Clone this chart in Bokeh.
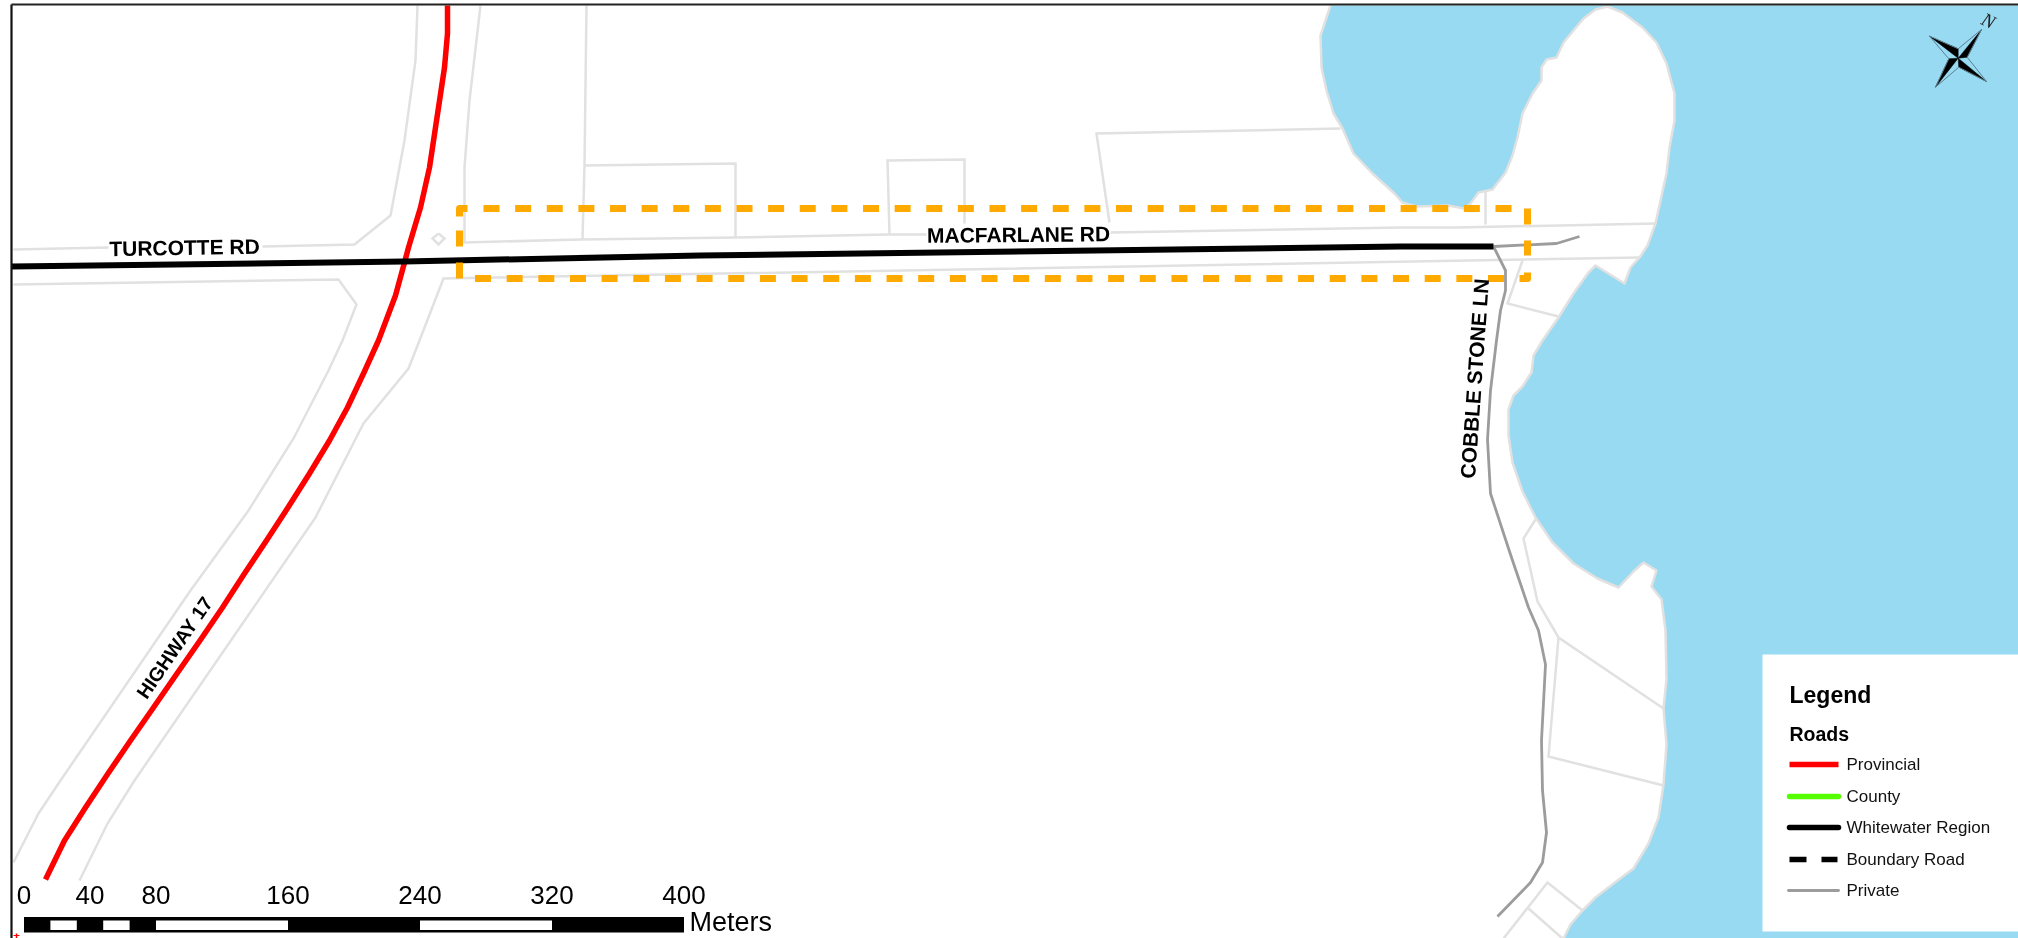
from bokeh.plotting import figure
from bokeh.embed import file_html
from bokeh.resources import INLINE
from bokeh.core.properties import value
import numpy as np

# ---- map geometry (map units = picture pixels) ----
shore_x = [1330,1320,1321,1326,1333,1342,1353,1372,1394,1402,1416,1448,1463,1470,1478,1492,1505,1512,1517,1522,1532,1541,1541,1546,1556,1563,1583,1595,1607,1622,1642,1656,1666,1674,1674,1669,1666,1660,1655,1647,1639,1630,1624,1595,1588,1573,1558,1542,1533,1531,1522,1513,1508,1508,1512,1522,1535,1552,1573,1597,1618,1633,1643,1656,1651,1661,1665,1666,1663,1666,1663,1658,1648,1633,1613,1595,1582,1570,1563]
shore_y = [5,35,67,90,113,128,153,173,193,202,206,205,208,203,192,189,172,155,137,113,93,80,67,59,57,42,18,9,6,12,27,42,63,93,120,147,173,200,223,245,257,267,283,265,272,293,317,340,355,372,386,395,409,435,462,491,517,542,563,578,587,571,562,570,586,599,630,679,708,744,784,817,843,868,883,897,910,924,938]
water_corner_x = [2018,2018]
water_corner_y = [938,5]

parcels = [
    [(417,5),(415,60),(404,140),(390,215),(354,244),(262,246)],
    [(108,247),(13,249)],
    [(480,5),(469,100),(464,167),(464,242),(580,239),(735,237),(888,234),(926,234)],
    [(1110,232),(1400,227),(1456,227),(1655,223)],
    [(586,5),(584,165),(582,239)],
    [(584,165),(735,163),(735,237)],
    [(889,234),(887,160),(964,159),(964,223)],
    [(1109,222),(1096,133),(1340,128)],
    [(13,284),(338,279),(356,304),(342,340),(328,370),(293,438),(248,510),(190,590),(60,780),(38,813),(13,862)],
    [(1639,257),(443,278),(419,340),(408,368),(363,423),(315,517),(134,780),(107,823),(79,880)],
    [(1522,260),(1507,303),(1558,316)],
    [(1485,190),(1485,224)],
    [(1535,519),(1523,538),(1537,601),(1558,637),(1663,708)],
    [(1558,637),(1548,756),(1663,785)],
    [(1582,910),(1547,882),(1503,938)],
    [(1528,908),(1562,938)],
    [(438,233),(444,238),(438,244),(432,238),(438,233)],
]

highway_x = [447,447,444,435,429,420,408,404,395,378,363,347,329,309,287.5,266,244,222,199.5,176.5,153,130,107.5,85,64,45]
highway_y = [5,33,67,127,167,207,247,262,295,340,373,407,440,473,507,540,573,607,640,673,707,740,773,807,840,879]
region_x = [11,404,700,1400,1493]
region_y = [266,261,255,246,246]
private_east_x = [1493,1556,1579]
private_east_y = [246,243,236]
private_x = [1493,1505,1505,1500,1496,1490,1487,1490,1510,1528,1538,1545,1541,1542,1546,1542,1530,1497]
private_y = [246,270,290,310,340,390,439,493,554,607,630,664,740,790,832,862,882,916]

study_left, study_right, study_top, study_bottom = 459, 1527, 208, 278

scale_ticks = [0,40,80,160,240,320,400]
scale_white = [(16,32),(48,64),(80,160),(240,320)]
scale_origin, scale_px_per_m = 23.5, 1.65

road_labels = ["TURCOTTE RD","MACFARLANE RD","COBBLE STONE LN","HIGHWAY 17"]
label_x = [184,1018,1474,174]
label_y = [247,234,378,647]
label_deg = [1,0.5,86,55.5]
label_px = ["21px","21px","21px","19.5px"]

legend_names = ["Provincial","County","Whitewater Region","Boundary Road","Private"]
legend_colors = ["#FF0000","#55FF00","#000000","#000000","#9C9C9C"]

star_center = (1957.7,57.7)
star_tips = [(1981,29),(1986,81),(1935,86.7),(1929,35.7)]
star_waist = [(1966.7,56.7),(1958.3,66.7),(1948.3,58.3),(1957.7,48.3)]

WATER = "#97DAF2"; GREY = "#E1E1E1"; ORANGE = "#FFAA00"
SANS = value("Liberation Sans")

p = figure(width=2018, height=938, x_range=(0,2018), y_range=(938,0),
           output_backend="svg", toolbar_location=None,
           x_axis_location=None, y_axis_location=None,
           min_border=0, outline_line_color=None, background_fill_color="white",
           border_fill_color="white")
p.grid.visible = False
p.styles = {"position":"fixed","left":"0px","top":"0px"}

# water and shore
p.patch(shore_x+water_corner_x, shore_y+water_corner_y, fill_color=WATER, line_color=None)
p.line(shore_x, shore_y, line_color=GREY, line_width=2.5, line_join="round")

# parcel fabric
p.multi_line([[a for a,_ in s] for s in parcels], [[b for _,b in s] for s in parcels],
             line_color=GREY, line_width=2.5, line_join="miter")

# roads
p.line(highway_x, highway_y, line_color="#FF0000", line_width=5.5, line_join="round")
p.line(private_east_x, private_east_y, line_color="#9C9C9C", line_width=2.8, line_join="round")
p.line(private_x, private_y, line_color="#9C9C9C", line_width=2.8, line_join="round")
p.line(region_x, region_y, line_color="#000000", line_width=6, line_join="round")

# study area, dashed
def hdashes(first, last, n, y):
    starts = np.linspace(first, last, n)
    return [[s, s+16] for s in starts], [[y, y] for _ in starts]
xs1, ys1 = hdashes(483, 1495, 33, study_top)
xs2, ys2 = hdashes(474.5, 1487.5, 33, study_bottom)
p.multi_line(xs1+xs2, ys1+ys2, line_color=ORANGE, line_width=7)
p.line([study_left]*2, [study_bottom, study_left-229], line_color=ORANGE, line_width=7, line_dash="16 16")
p.line([study_right]*2, [study_top, study_top+47], line_color=ORANGE, line_width=7, line_dash="16 16")
p.line([study_left, study_left, study_left+8], [study_top+8, study_top, study_top],
       line_color=ORANGE, line_width=7, line_join="round")
p.line([study_right, study_right, study_right-8], [study_bottom-6, study_bottom, study_bottom],
       line_color=ORANGE, line_width=7, line_join="round")

# road labels
for t, x, y, a, s in zip(road_labels, label_x, label_y, label_deg, label_px):
    p.text([x],[y],text=[t],angle=[a],angle_units="deg",text_font=SANS,text_font_style="bold",
           text_font_size=value(s),text_color="black",text_align="center",text_baseline="middle")

# frame
p.line([11,11],[4,938],line_color="#111111",line_width=2.2)
p.line([11,2018],[4,4],line_color="#222222",line_width=2.2)
p.line([16,16],[933,938],line_color="#FF0000",line_width=1.5)
p.line([13,19],[935,935],line_color="#FF0000",line_width=1)

# compass
cx, cy = star_center
for (tx,ty),(wx,wy),(ox,oy) in zip(star_tips, star_waist, star_waist[-1:]+star_waist[:-1]):
    p.patch([cx,tx,wx],[cy,ty,wy],fill_color="black",line_color="black",line_width=0.5)
    p.line([ox,tx,wx],[oy,ty,wy],line_color="#5E7F8E",line_width=1)
p.text([1988],[20],text=["N"],angle=[-25],angle_units="deg",text_font=value("Liberation Serif"),
       text_font_style="italic",text_font_size=value("19px"),text_color="#222222",
       text_align="center",text_baseline="middle")

# scale bar
sx = lambda m: scale_origin + scale_px_per_m*np.asarray(m, dtype=float)
p.quad(left=[sx(0)],right=[sx(400)],top=[916.5],bottom=[932],fill_color="black",line_color=None)
p.quad(left=sx([a for a,_ in scale_white]),right=sx([b for _,b in scale_white]),
       top=[920]*4,bottom=[929.5]*4,fill_color="white",line_color=None)
p.text(sx(scale_ticks),[894.5]*len(scale_ticks),text=[str(t) for t in scale_ticks],
       text_font=SANS,text_font_size=value("26px"),text_color="black",
       text_align="center",text_baseline="middle")
p.text([689],[921],text=["Meters"],text_font=SANS,text_font_size=value("27px"),text_color="black",
       text_align="left",text_baseline="middle")

# legend
p.quad(left=[1762],right=[2018],top=[654],bottom=[931],fill_color="white",line_color=None)
p.text([1789],[694],text=["Legend"],text_font=SANS,text_font_style="bold",text_font_size=value("23px"),
       text_color="black",text_baseline="middle")
p.text([1789],[733],text=["Roads"],text_font=SANS,text_font_style="bold",text_font_size=value("19.5px"),
       text_color="black",text_baseline="middle")
rows = [764,796,827,859,890]
p.line([1789,1838],[rows[0]]*2,line_color=legend_colors[0],line_width=5.5)
p.line([1789,1838],[rows[1]]*2,line_color=legend_colors[1],line_width=5.5,line_cap="round")
p.line([1789,1838],[rows[2]]*2,line_color=legend_colors[2],line_width=5.5,line_cap="round")
p.line([1789,1837],[rows[3]]*2,line_color=legend_colors[3],line_width=5.5,line_dash="17 15")
p.line([1788,1838],[rows[4]]*2,line_color=legend_colors[4],line_width=2.8,line_cap="round")
p.text([1846]*5,rows,text=legend_names,text_font=SANS,text_font_size=value("17px"),text_color="#111111",
       text_align="left",text_baseline="middle")

open("out.html","w").write(file_html(p, INLINE))
